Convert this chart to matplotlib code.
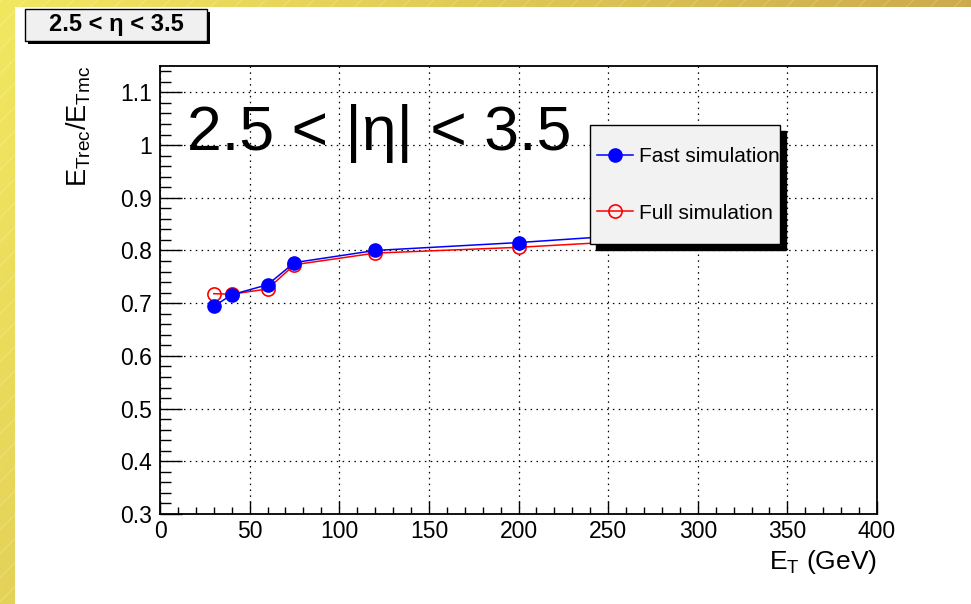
import numpy as np
import matplotlib
matplotlib.use("Agg")
import matplotlib.pyplot as plt
from matplotlib.patches import Rectangle
from matplotlib.lines import Line2D
from matplotlib.legend_handler import HandlerLine2D
from matplotlib.ticker import FixedLocator, MultipleLocator

plt.rcParams['font.family'] = ['Liberation Sans', 'DejaVu Sans']
plt.rcParams['mathtext.default'] = 'regular'

# response vs transverse energy, 2.5 < |eta| < 3.5
et = [30, 40, 60, 75, 120, 200, 300]
fast_sim = [0.694, 0.716, 0.735, 0.777, 0.800, 0.815, 0.838]
full_sim = [0.718, 0.717, 0.727, 0.773, 0.795, 0.806, 0.825]

xticks = [0, 50, 100, 150, 200, 250, 300, 350, 400]
yticks = [0.3, 0.4, 0.5, 0.6, 0.7, 0.8, 0.9, 1.0, 1.1]
ytick_labels = ["0.3", "0.4", "0.5", "0.6", "0.7", "0.8", "0.9", "1", "1.1"]


class MidLine(HandlerLine2D):
    # keep the legend line level with the middle of the label text
    def create_artists(self, legend, orig_handle, xdescent, ydescent, width, height, fontsize, trans):
        return super().create_artists(legend, orig_handle, xdescent, ydescent, width,
                                      0.72 * fontsize + ydescent, fontsize, trans)


W, H = 971, 604
fig = plt.figure(figsize=(W / 100, H / 100), dpi=100)

# slide background: yellow/gold gradient with faint diagonal stripes
bg = fig.add_axes([0, 0, 1, 1], zorder=-10)
bg.axis("off")
yy, xx = np.mgrid[0:H, 0:W]
t = np.clip(0.85 * xx / W + 0.3 * yy / H, 0, 1)[..., None]
c0 = np.array([242, 232, 96]) / 255
c1 = np.array([198, 160, 72]) / 255
img = c0 * (1 - t) + c1 * t
stripe = ((xx + yy) % 24) < 1.5
img[stripe] = img[stripe] * 0.85 + 0.15
bg.imshow(img, extent=(0, W, H, 0), aspect="auto")
bg.add_patch(Rectangle((15, 7), W - 15, H - 7, facecolor="white", edgecolor="none"))
bg.set_xlim(0, W)
bg.set_ylim(H, 0)

ax = fig.add_axes([160 / W, 1 - 514 / H, 717 / W, 448 / H])
ax.set_xlim(0, 400)
ax.set_ylim(0.3, 1.15)

ax.plot(et, fast_sim, color="blue", lw=1.1, marker="o", ms=9.5,
        markerfacecolor="blue", markeredgecolor="blue", label="Fast simulation", zorder=3)
ax.plot(et, full_sim, color="red", lw=1.1, marker="o", ms=9.5, mew=1.2,
        markerfacecolor="none", markeredgecolor="red", label="Full simulation", zorder=2)

ax.xaxis.set_major_locator(FixedLocator(xticks))
ax.xaxis.set_minor_locator(MultipleLocator(10))
ax.yaxis.set_major_locator(FixedLocator(yticks))
ax.yaxis.set_minor_locator(MultipleLocator(0.02))
ax.set_yticklabels(ytick_labels)
ax.grid(True, which="major", color="black", lw=0.9, linestyle=(0, (1.2, 3.5)))

ax.tick_params(which="both", direction="in", top=False, right=False, labelsize=16.5, colors="black")
ax.tick_params(axis="x", which="major", length=9.7, width=1.0, pad=4)
ax.tick_params(axis="x", which="minor", length=4.8, width=1.0)
ax.tick_params(axis="y", which="major", length=15.5, width=1.0, pad=6)
ax.tick_params(axis="y", which="minor", length=7.7, width=1.0)
for s in ax.spines.values():
    s.set_linewidth(1.3)

ax.set_xlabel("$E_T$ (GeV)", fontsize=19, loc="right")
ax.xaxis.set_label_coords(1.0, -0.075)
ax.set_ylabel("$E_{Trec}/E_{Tmc}$", fontsize=19.5, loc="top")
ax.yaxis.set_label_coords(-0.093, 1.0)

ax.text(0.0377, 0.8125, "2.5 < |η| < 3.5", transform=ax.transAxes,
        fontsize=45, va="baseline", ha="left")

leg = ax.legend(loc="upper left", bbox_to_anchor=(590 / W, 1 - 245 / H, 190 / W, 120 / H),
                bbox_transform=fig.transFigure, mode="expand", fontsize=15, numpoints=1,
                handler_map={Line2D: MidLine()},
                handlelength=1.7, handleheight=3.2, handletextpad=0.3, borderpad=0.35,
                labelspacing=0.38, borderaxespad=0, fancybox=False, framealpha=1,
                shadow={"color": "black", "alpha": 1, "ox": 4.5, "oy": -4})
leg.get_frame().set_facecolor("#f2f2f2")
leg.get_frame().set_edgecolor("black")
leg.get_frame().set_linewidth(1.0)

# pad title box in the top-left corner
fig.patches.append(Rectangle((28 / W, 1 - 44 / H), 182 / W, 32 / H, transform=fig.transFigure,
                             facecolor="black", edgecolor="none", zorder=5))
fig.patches.append(Rectangle((25 / W, 1 - 41 / H), 182 / W, 32 / H, transform=fig.transFigure,
                             facecolor="#f0f0f0", edgecolor="black", lw=1.0, zorder=6))
fig.text(116 / W, 1 - 25 / H, "2.5 < η < 3.5", fontsize=17, fontweight="bold",
         ha="center", va="center", zorder=7)

fig.savefig("out.png", dpi=100)
